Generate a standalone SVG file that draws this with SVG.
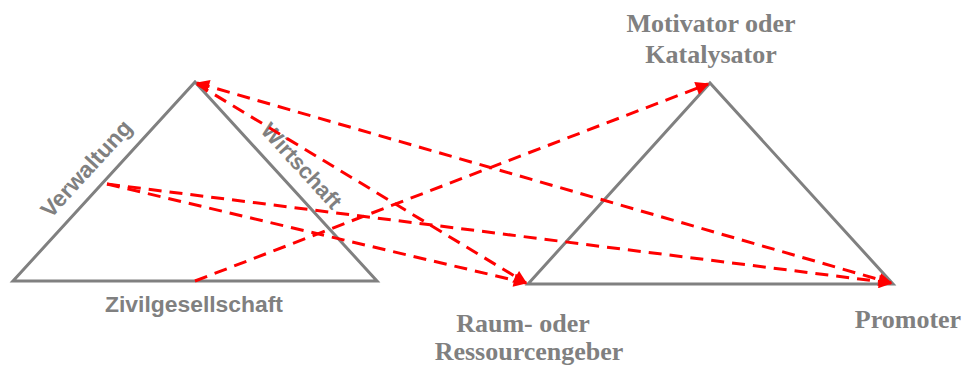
<svg xmlns="http://www.w3.org/2000/svg" width="964" height="366" viewBox="0 0 964 366">
<style>
.tri{fill:none;stroke:#808080;stroke-width:3;stroke-linejoin:miter}
.arr{fill:none;stroke:#ff0000;stroke-width:3;stroke-dasharray:13 8}
.serif{font-family:"Liberation Serif","Times New Roman",serif;font-weight:bold;font-size:26px;fill:#808080}
.sans{font-family:"Liberation Sans",Arial,sans-serif;font-weight:bold;fill:#808080}
</style>
<defs>
<marker id="ah" viewBox="0 0 10 10" refX="9" refY="5" markerWidth="5" markerHeight="4.5" orient="auto-start-reverse" markerUnits="strokeWidth">
<path d="M0,0 L10,5 L0,10 Z" fill="#ff0000"/>
</marker>
</defs>
<rect width="964" height="366" fill="#ffffff"/>
<g id="left-triangle">
<path class="tri" d="M13,281 L195,82 L377,281 Z"/>
<text class="sans" font-size="23" text-anchor="middle" transform="translate(92,174) rotate(-47.6)">Verwaltung</text>
<text class="sans" font-size="22" text-anchor="middle" transform="translate(296,171) rotate(47.6)">Wirtschaft</text>
<text class="sans" font-size="22" x="194" y="312" text-anchor="middle" textLength="178" lengthAdjust="spacingAndGlyphs">Zivilgesellschaft</text>
</g>
<g id="right-triangle">
<path class="tri" d="M528,284 L710,83 L893,284 Z"/>
<text class="serif" x="711" y="32" text-anchor="middle">Motivator oder</text>
<text class="serif" x="711" y="63" text-anchor="middle">Katalysator</text>
<text class="serif" x="523" y="332" text-anchor="middle" font-size="25">Raum- oder</text>
<text class="serif" x="529" y="360" text-anchor="middle" font-size="25">Ressourcengeber</text>
<text class="serif" x="908" y="328" text-anchor="middle">Promoter</text>
</g>
<g id="connectors">
<line class="arr" x1="197" y1="83" x2="891" y2="283" marker-start="url(#ah)" marker-end="url(#ah)"/>
<line class="arr" x1="197" y1="84" x2="526" y2="283" marker-end="url(#ah)"/>
<line class="arr" x1="107" y1="184" x2="891" y2="283" marker-end="url(#ah)"/>
<line class="arr" x1="107" y1="184" x2="526" y2="283" marker-end="url(#ah)"/>
<line class="arr" x1="195" y1="281" x2="708" y2="84" marker-end="url(#ah)"/>
</g>
</svg>
